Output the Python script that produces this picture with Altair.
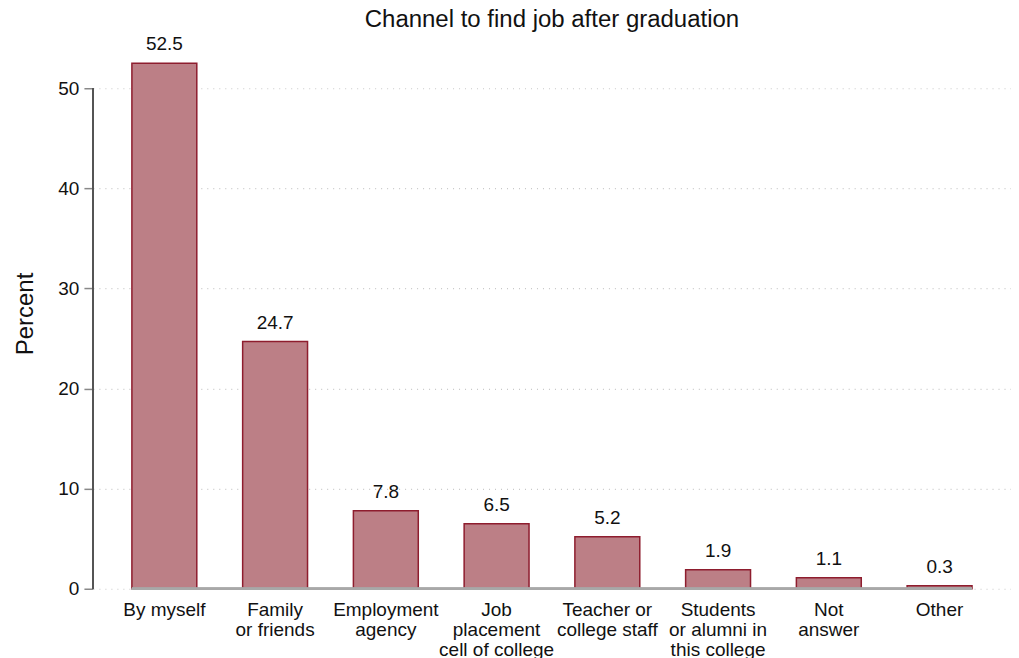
import altair as alt
import pandas as pd

categories = [
    "By myself",
    "Family|or friends",
    "Employment|agency",
    "Job|placement|cell of college",
    "Teacher or|college staff",
    "Students|or alumni in|this college",
    "Not|answer",
    "Other",
]
percent = [52.5, 24.7, 7.8, 6.5, 5.2, 1.9, 1.1, 0.3]
value_labels = ["52.5", "24.7", "7.8", "6.5", "5.2", "1.9", "1.1", "0.3"]

df = pd.DataFrame({"cat": categories, "pct": percent, "lab": value_labels})

FILL = "#bc7f86"
STROKE = "#8e1d2e"
FONT = "Liberation Sans"

x_enc = alt.X(
    "cat:N",
    sort=None,
    title=None,
    scale=alt.Scale(paddingInner=0.414, paddingOuter=0.352),
    axis=alt.Axis(
        labelExpr="split(datum.label, '|')",
        labelAngle=0,
        labelFontSize=19,
        labelLineHeight=20,
        labelColor="#111111",
        labelPadding=12,
        labelFont=FONT,
        ticks=False,
        domain=False,
        grid=False,
    ),
)

y_enc = alt.Y(
    "pct:Q",
    title="Percent",
    scale=alt.Scale(domain=[0, 55], nice=False),
    axis=alt.Axis(
        values=[0, 10, 20, 30, 40, 50],
        labelFontSize=19,
        labelColor="#111111",
        labelFont=FONT,
        titleFont=FONT,
        titleFontSize=24,
        titleFontWeight="normal",
        titleColor="#111111",
        titlePadding=20,
        tickSize=9,
        tickColor="#888888",
        tickWidth=1.5,
        labelPadding=5,
        domain=False,
        grid=True,
        gridColor="#c8c8c8",
        gridDash=[1, 5],
        gridWidth=1.2,
    ),
)

base = alt.Chart(df)

zero_line = base.mark_rule(color="#a8a8a8", strokeWidth=2).encode(
    x=alt.XDatum("By myself", bandPosition=0),
    x2=alt.X2Datum("Other", bandPosition=1),
    y=alt.YDatum(0),
)

y_axis_line = base.mark_rule(color="#555555", strokeWidth=1.5).encode(
    x=alt.value(0),
    y=alt.YDatum(0),
    y2=alt.Y2Datum(50),
)

bars = base.mark_bar(fill=FILL, stroke=STROKE, strokeWidth=1.5).encode(
    x=x_enc,
    y=y_enc,
)

texts = base.mark_text(
    baseline="bottom", dy=-9, fontSize=19, font=FONT, color="#111111"
).encode(
    x=alt.X("cat:N", sort=None),
    y="pct:Q",
    text="lab:N",
)

chart = (
    alt.layer(bars, zero_line, y_axis_line, texts)
    .properties(
        width=919,
        height=551,
        title=alt.TitleParams(
            "Channel to find job after graduation",
            fontSize=24,
            font=FONT,
            fontWeight="normal",
            color="#111111",
            anchor="middle",
            offset=3,
        ),
        padding={"left": 5, "top": 0, "right": 0, "bottom": 0},
    )
    .configure_view(stroke=None)
)

chart.save("out.html", embed_options={"renderer": "svg", "actions": False})
